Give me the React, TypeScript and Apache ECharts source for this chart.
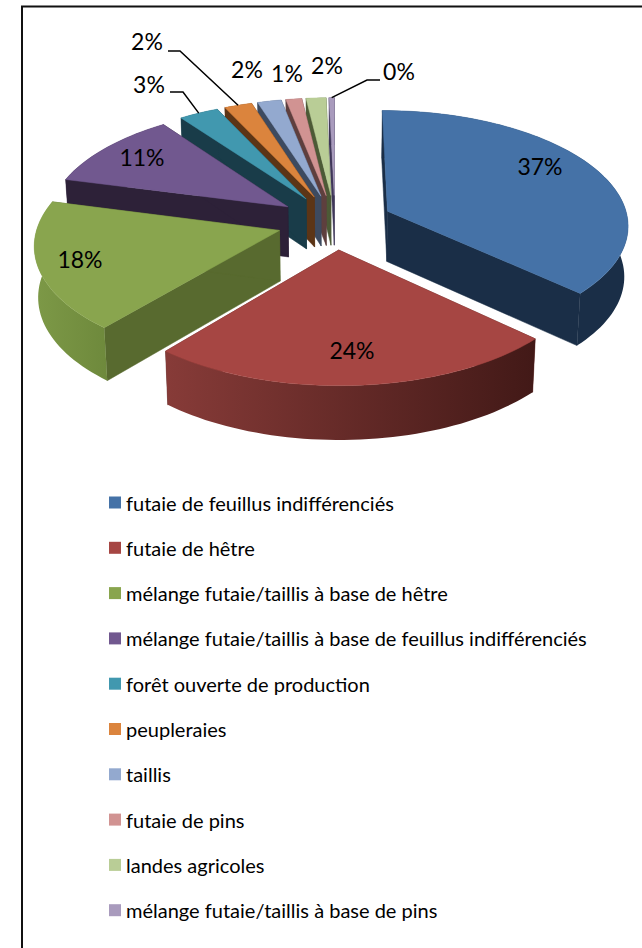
import React, { useEffect, useRef } from "react";
import * as echarts from "echarts";

const categories = [
  "futaie de feuillus indifférenciés",
  "futaie de hêtre",
  "mélange futaie/taillis à base de hêtre",
  "mélange futaie/taillis à base de feuillus indifférenciés",
  "forêt ouverte de production",
  "peupleraies",
  "taillis",
  "futaie de pins",
  "landes agricoles",
  "mélange futaie/taillis à base de pins",
];
const values = [36.9, 24.1, 18.0, 10.9, 3.0, 2.1, 1.8, 1.2, 1.5, 0.4];
const topColors = ["#4572A7", "#A64643", "#89A54E", "#71588F", "#4198AF", "#DB843D", "#93A9CF", "#D19392", "#B9CD96", "#A99BBD"];
const wallColors = ["#1A2E47", "#5A2321", "#586A2F", "#2D2138", "#193C49", "#5C3516", "#3D4A5F", "#5E3F3E", "#4C5A36", "#3F3658"];
const arcColors = [
  ["#1A2E47", "#1A2E47"],
  ["#873B38", "#421917"],
  ["#7D9947", "#6E893C"],
  ["#2D2138", "#2D2138"],
  ["#193C49", "#193C49"],
  ["#5C3516", "#5C3516"],
  ["#3D4A5F", "#3D4A5F"],
  ["#5E3F3E", "#5E3F3E"],
  ["#4C5A36", "#4C5A36"],
  ["#3F3658", "#3F3658"],
];
// label centre, and leader elbow points (layout only)
const labelPos = [[540, 166], [352, 350], [80, 259], [142, 157], [149, 84], [147, 41], [247, 69], [287, 73], [327, 65], [399, 71]];
const leaders: (number[][] | null)[] = [null, null, null, null, [[170, 92], [183, 92]], [[168, 51], [180, 51]], null, null, null, [[380, 80], [367, 80]]];
const paintOrder = [9, 8, 7, 6, 5, 4, 3, 0, 2, 1];

const CX = 335, CY = 222, RX = 241, RY = 114, PERSP = 0.11, EXPL = 0.24, DEPTH = 50.5;
const total = values.reduce((a, b) => a + b, 0);

function project(X: number, Y: number) {
  const s = 1 / (1 - PERSP * Y);
  return [CX + RX * X * s, CY + RY * Y * s, s];
}

function makeRender(idx: number) {
  return (_p: any, api: any) => {
    const v = api.value(0), cum = api.value(1);
    const a0 = (cum / total) * Math.PI * 2;
    const a1 = ((cum + v) / total) * Math.PI * 2;
    const m = (a0 + a1) / 2;
    const ox = EXPL * Math.sin(m), oy = -EXPL * Math.cos(m);
    const top = (t: number) => project(ox + Math.sin(t), oy - Math.cos(t));
    const down = (q: number[]) => [CX + (q[0] - CX) * 0.987, q[1] + DEPTH * Math.pow(q[2], 0.5)];
    const apex = project(ox, oy);
    const steps = Math.max(4, Math.ceil((a1 - a0) / 0.03));
    const arc: number[][] = [];
    for (let i = 0; i <= steps; i++) arc.push(top(a0 + ((a1 - a0) * i) / steps));
    const wall = (e: number[]) => ({
      type: "polygon",
      shape: { points: [apex.slice(0, 2), e.slice(0, 2), down(e), down(apex)] },
      style: { fill: wallColors[idx], stroke: wallColors[idx], lineWidth: 0.5 },
    });
    const arcWall = {
      type: "polygon",
      shape: { points: [...arc.map((q) => q.slice(0, 2)), ...arc.slice().reverse().map(down)] },
      style: {
        fill: new echarts.graphic.LinearGradient(0, 0, 1, 0, [
          { offset: 0, color: arcColors[idx][idx === 2 || idx === 1 ? 0 : 1] },
          { offset: 1, color: arcColors[idx][idx === 2 || idx === 1 ? 1 : 0] },
        ]),
      },
    };
    const face = {
      type: "polygon",
      shape: { points: [apex.slice(0, 2), ...arc.map((q) => q.slice(0, 2))] },
      style: { fill: topColors[idx], stroke: topColors[idx], lineWidth: 0.5 },
    };
    const children: any[] = [wall(arc[0]), wall(arc[arc.length - 1]), arcWall, face];
    const lead = leaders[idx];
    if (lead) {
      const end = top(m);
      children.push({
        type: "polyline",
        shape: { points: [...lead, end.slice(0, 2)] },
        style: { fill: "none", stroke: "#000", lineWidth: 1.5 },
      });
    }
    children.push({
      type: "text",
      style: {
        x: labelPos[idx][0],
        y: labelPos[idx][1],
        text: Math.round((v / total) * 100) + "%",
        fill: "#000",
        font: "23px Lato",
        align: "center",
        verticalAlign: "middle",
      },
    });
    return { type: "group", children };
  };
}

export default function App() {
  const ref = useRef<HTMLDivElement>(null);
  useEffect(() => {
    const chart = echarts.init(ref.current!, null, { renderer: "svg" });
    const cums = values.map((_, i) => values.slice(0, i).reduce((a, b) => a + b, 0));
    chart.setOption({
      animation: false,
      backgroundColor: "#fff",
      legend: {
        data: categories,
        orient: "vertical",
        left: 109,
        top: 492.5,
        padding: 0,
        icon: "rect",
        itemWidth: 12,
        itemHeight: 12,
        itemGap: 25.3,
        selectedMode: false,
        textStyle: { fontFamily: "Lato", fontSize: 20, color: "#000", lineHeight: 20 },
      },
      graphic: [
        { type: "line", shape: { x1: 21, y1: 6.5, x2: 642, y2: 6.5 }, style: { stroke: "#111", lineWidth: 2 } },
        { type: "line", shape: { x1: 22, y1: 6, x2: 22, y2: 948 }, style: { stroke: "#111", lineWidth: 2 } },
      ],
      series: paintOrder.map((i) => ({
        type: "custom",
        name: categories[i],
        coordinateSystem: "none",
        silent: true,
        itemStyle: { color: topColors[i] },
        renderItem: makeRender(i),
        data: [[values[i], cums[i]]],
      })),
    });
    return () => chart.dispose();
  }, []);
  return <div ref={ref} style={{ position: "absolute", left: 0, top: 0, width: 642, height: 948 }} />;
}
